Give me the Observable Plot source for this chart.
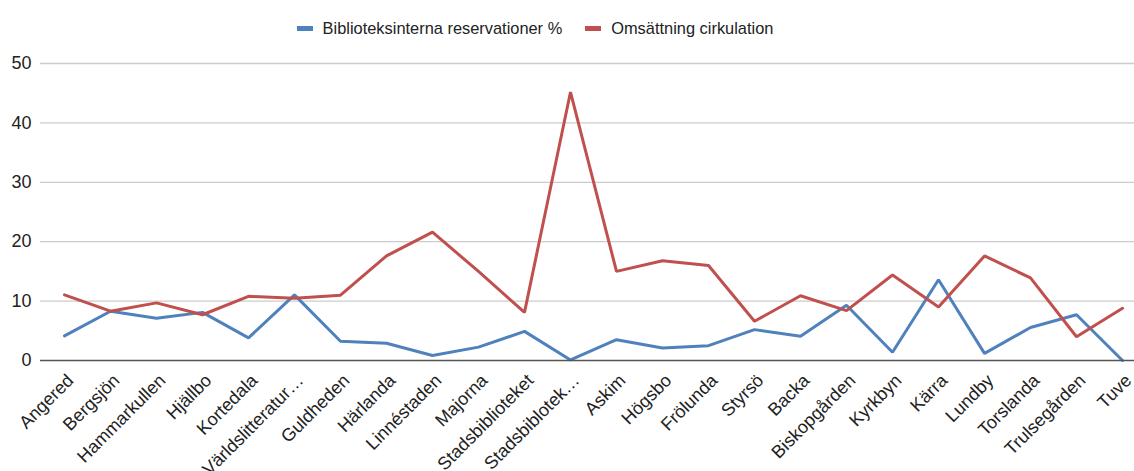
<!DOCTYPE html>
<html>
<head>
<meta charset="utf-8">
<script src="https://cdn.jsdelivr.net/npm/d3@7"></script>
<script src="https://cdn.jsdelivr.net/npm/@observablehq/plot@0.6"></script>
<style>
  body { margin: 0; background: #fff; font-family: "Liberation Sans", Arial, sans-serif; }
  #legend { height: 50px; display: flex; justify-content: center; align-items: center; gap: 23px; font-size: 16.4px; color: #222; padding-right: 64px; padding-top: 6px; box-sizing: border-box; }
  .item { display: flex; align-items: center; gap: 10px; }
  .sw { width: 16px; height: 5px; display: inline-block; }
  svg { display: block; }
</style>
</head>
<body>
<div id="legend"></div>
<div id="chart"></div>
<script>
const categories = ["Angered","Bergsjön","Hammarkullen","Hjällbo","Kortedala","Världslitteratur…","Guldheden","Härlanda","Linnéstaden","Majorna","Stadsbiblioteket","Stadsbiblotek…","Askim","Högsbo","Frölunda","Styrsö","Backa","Biskopgården","Kyrkbyn","Kärra","Lundby","Torslanda","Trulsegården","Tuve"];
const reservations = [4.15,8.3,7.1,8.1,3.8,11.05,3.25,2.9,0.85,2.25,4.9,0.1,3.5,2.1,2.5,5.2,4.1,9.3,1.4,13.6,1.2,5.55,7.7,0];
const circulation = [11.05,8.3,9.7,7.7,10.8,10.5,11.0,17.6,21.6,15.0,8.1,45.2,15.0,16.8,16.0,6.6,10.9,8.4,14.4,9.0,17.6,13.9,4.0,8.8];
const seriesNames = ["Biblioteksinterna reservationer %","Omsättning cirkulation"];
const seriesColors = ["#4f81bd","#c0504d"];
const yTicks = [0,10,20,30,40,50];

const data = [];
categories.forEach((c,i)=>{
  data.push({cat:c, value:reservations[i], series:seriesNames[0]});
  data.push({cat:c, value:circulation[i], series:seriesNames[1]});
});

const legend = document.getElementById("legend");
seriesNames.forEach((n,i)=>{
  const it = document.createElement("span"); it.className="item";
  const sw = document.createElement("span"); sw.className="sw"; sw.style.background=seriesColors[i];
  const t = document.createElement("span"); t.textContent=n;
  it.appendChild(sw); it.appendChild(t); legend.appendChild(it);
});

const chart = Plot.plot({
  width: 1134,
  height: 421,
  marginTop: 13,
  marginBottom: 111,
  marginLeft: 40,
  marginRight: 0,
  style: {fontFamily: "Liberation Sans, Arial, sans-serif", color: "#222", background: "#fff"},
  x: {type: "point", domain: categories, padding: 0.5, range: [40, 1145]},
  y: {domain: [0, 50]},
  color: {domain: seriesNames, range: seriesColors},
  marks: [
    Plot.ruleY(yTicks.filter(d=>d>0), {stroke: "#cccccc", strokeWidth: 1.3}),
    Plot.axisY({ticks: yTicks, tickSize: 0, tickPadding: 9, fontSize: 18, label: null, fill: "#222"}),
    Plot.axisX({tickRotate: -45, tickSize: 0, tickPadding: 14, fontSize: 18, label: null, fill: "#222", dx: 6, dy: 3}),
    Plot.line(data, {x: "cat", y: "value", z: "series", stroke: "series", strokeWidth: 3, strokeLinejoin: "miter"}),
    Plot.ruleY([0], {stroke: "#555", strokeWidth: 1.5})
  ]
});
document.getElementById("chart").appendChild(chart);
</script>
</body>
</html>
